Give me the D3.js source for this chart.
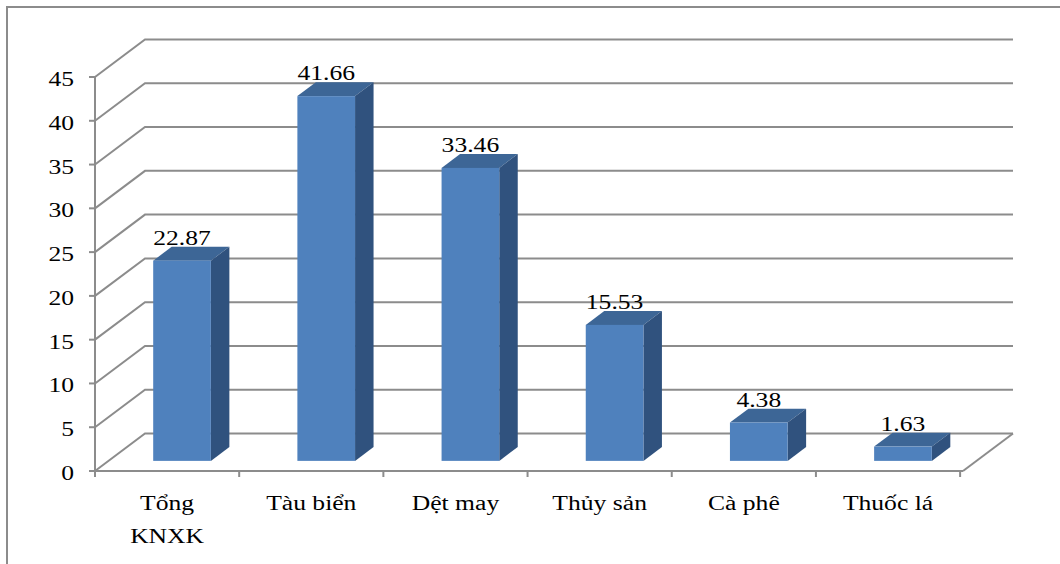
<!DOCTYPE html>
<html lang="en">
<head>
  <meta charset="UTF-8">
  <title>Bar chart 3D</title>
  <script src="https://d3js.org/d3.v7.min.js"></script>
  <style>
    body { margin: 0; background: #fff; }
  </style>
</head>
<body>
  <svg width="1060" height="564"></svg>
  <script>
    const categories = [["Tổng", "KNXK"], ["Tàu biển"], ["Dệt may"], ["Thủy sản"], ["Cà phê"], ["Thuốc lá"]];
    const values = [22.87, 41.66, 33.46, 15.53, 4.38, 1.63];
    const yTicks = [0, 5, 10, 15, 20, 25, 30, 35, 40, 45];

    const svg = d3.select("svg");
    const serif = '"Liberation Serif", "Times New Roman", serif';
    const stretch = 1.28; // source image text is widened horizontally

    // outer frame (cut off on right and bottom like the source image)
    svg.append("rect")
      .attr("x", 7).attr("y", 7)
      .attr("width", 1100).attr("height", 600)
      .attr("fill", "none")
      .attr("stroke", "#8c8c8c")
      .attr("stroke-width", 2);

    // front plane origin and depth vector
    const x0 = 95, x1 = 963, y0 = 471;
    const depth = {dx: 50, dy: -37.5};
    const bar = {t1: 0.27, t2: 0.64};

    const x = d3.scaleBand()
      .domain(d3.range(categories.length))
      .range([x0, x1])
      .paddingInner(0.6)
      .paddingOuter(0.31);

    const y = d3.scaleLinear().domain([0, 45]).range([y0, 77]);

    const grid = svg.append("g")
      .attr("stroke", "#8c8c8c")
      .attr("stroke-width", 2)
      .attr("fill", "none");

    // left wall diagonals + back wall lines
    yTicks.forEach(v => {
      const yy = y(v);
      grid.append("path")
        .attr("d", `M${x0},${yy}L${x0 + depth.dx},${yy + depth.dy}L${x1 + depth.dx},${yy + depth.dy}`);
    });
    // floor right edge
    grid.append("path")
      .attr("d", `M${x1},${y0}L${x1 + depth.dx},${y0 + depth.dy}`);

    // bars
    const bars = svg.append("g");
    values.forEach((v, i) => {
      const fx = x(i) + depth.dx * bar.t1;
      const fb = y0 + depth.dy * bar.t1;
      const w = x.bandwidth();
      const h = y0 - y(v);
      const ddx = depth.dx * (bar.t2 - bar.t1);
      const ddy = depth.dy * (bar.t2 - bar.t1);
      const ft = fb - h;
      // top
      bars.append("path")
        .attr("d", `M${fx},${ft}L${fx + w},${ft}L${fx + w + ddx},${ft + ddy}L${fx + ddx},${ft + ddy}Z`)
        .attr("fill", "#3d6696");
      // side
      bars.append("path")
        .attr("d", `M${fx + w},${ft}L${fx + w + ddx},${ft + ddy}L${fx + w + ddx},${fb + ddy}L${fx + w},${fb}Z`)
        .attr("fill", "#30527e");
      // front
      bars.append("rect")
        .attr("x", fx).attr("y", ft)
        .attr("width", w).attr("height", h)
        .attr("fill", "#4f81bd");
      // value label
      bars.append("text")
        .attr("transform", `translate(${fx + w / 2},${ft + ddy - 2}) scale(${stretch},1)`)
        .attr("text-anchor", "middle")
        .style("font-family", serif)
        .style("font-size", "20px")
        .attr("fill", "#000")
        .text(v.toFixed(2));
    });

    // front axes
    const axis = svg.append("g")
      .attr("stroke", "#8c8c8c")
      .attr("stroke-width", 2)
      .attr("fill", "none");
    axis.append("path").attr("d", `M${x0},${y(45)}L${x0},${y0}L${x1},${y0}`);
    yTicks.forEach(v => {
      axis.append("path").attr("d", `M${x0 - 6},${y(v)}L${x0},${y(v)}`);
    });
    d3.range(categories.length + 1).forEach(i => {
      const xx = x0 + i * x.step();
      axis.append("path").attr("d", `M${xx},${y0}L${xx},${y0 + 6}`);
    });

    // y tick labels
    svg.append("g").selectAll("text")
      .data(yTicks)
      .join("text")
      .attr("transform", d => `translate(74,${y(d) + 9}) scale(${stretch},1)`)
      .attr("text-anchor", "end")
      .style("font-family", serif)
      .style("font-size", "20px")
      .attr("fill", "#000")
      .text(d => d);

    // category labels
    const cat = svg.append("g").selectAll("text")
      .data(categories)
      .join("text")
      .attr("transform", (d, i) => `translate(${x0 + (i + 0.5) * x.step()},510) scale(${stretch},1)`)
      .attr("text-anchor", "middle")
      .style("font-family", serif)
      .style("font-size", "20px")
      .attr("fill", "#000");
    cat.selectAll("tspan")
      .data(d => d)
      .join("tspan")
      .attr("x", 0)
      .attr("dy", (d, i) => i === 0 ? 0 : 33)
      .text(d => d);
  </script>
</body>
</html>
